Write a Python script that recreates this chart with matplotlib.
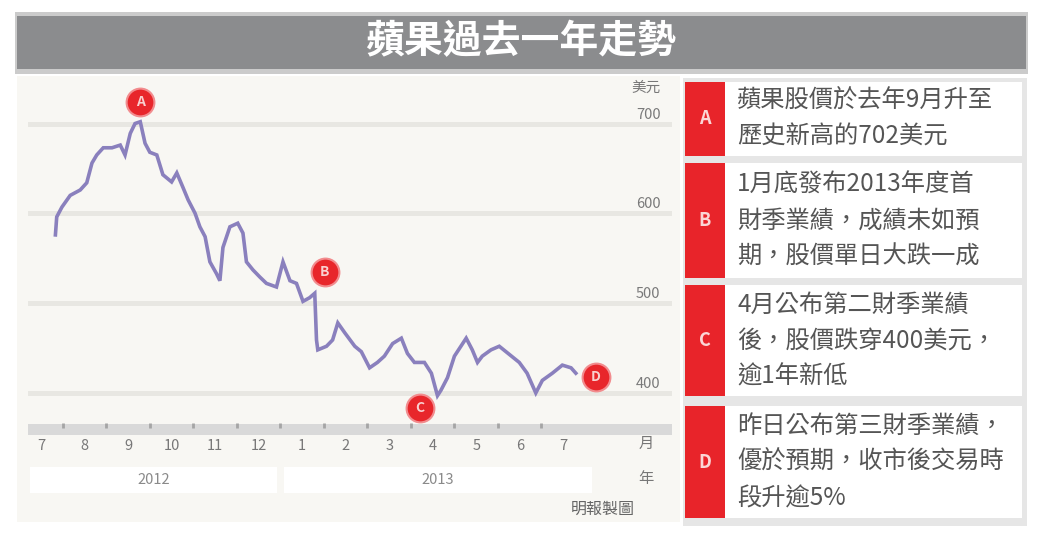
import matplotlib
matplotlib.use("Agg")
import matplotlib.pyplot as plt
from matplotlib.patches import Rectangle

plt.rcParams['font.family'] = ['Noto Sans CJK TC', 'DejaVu Sans']

# === Data ===
# x = months since 1 Jul 2012, y = share price in US$
months = [0.83, 0.86, 0.98, 1.17, 1.40, 1.55, 1.67, 1.78, 1.93, 2.13, 2.32, 2.43,
          2.55, 2.66, 2.78, 2.89, 3.00, 3.16, 3.30, 3.50, 3.62, 3.76, 3.88, 4.04,
          4.15, 4.27, 4.38, 4.53, 4.61, 4.68, 4.84, 5.02, 5.14, 5.22, 5.37, 5.53,
          5.68, 5.91, 6.06, 6.22, 6.37, 6.52, 6.67, 6.79, 6.83, 6.86, 7.06, 7.20,
          7.32, 7.48, 7.71, 7.86, 8.05, 8.23, 8.39, 8.58, 8.78, 8.92, 9.08, 9.31,
          9.47, 9.61, 9.69, 9.84, 10.00, 10.27, 10.41, 10.53, 10.64, 10.84, 11.03,
          11.26, 11.49, 11.67, 11.87, 12.02, 12.25, 12.48, 12.68, 12.79]
price = [576, 596, 607, 620, 626, 634, 656, 665, 673, 673, 676, 665,
         689, 700, 702, 678, 668, 665, 643, 635, 645, 629, 615, 600,
         585, 574, 546, 533, 525, 562, 585, 589, 578, 546, 537, 529,
         522, 518, 546, 525, 522, 502, 506, 511, 459, 448, 452, 459,
         478, 467, 452, 446, 428, 434, 441, 455, 461, 444, 434, 434,
         422, 397, 403, 417, 441, 461, 448, 434, 441, 448, 452,
         443, 434, 422, 400, 414, 422, 431, 428, 422]

marker_labels = ["A", "B", "C", "D"]
marker_x = [2.78, 7.02, 9.20, 13.25]
marker_y = [724, 535, 383, 418]

month_labels = ["7", "8", "9", "10", "11", "12", "1", "2", "3", "4", "5", "6", "7"]
year_labels = ["2012", "2013"]
y_ticks = [400, 500, 600, 700]

title = "蘋果過去一年走勢"
notes = [
    ["蘋果股價於去年9月升至", "歷史新高的702美元"],
    ["1月底發布2013年度首", "財季業績，成績未如預", "期，股價單日大跌一成"],
    ["4月公布第二財季業績", "後，股價跌穿400美元，", "逾1年新低"],
    ["昨日公布第三財季業績，", "優於預期，收市後交易時", "段升逾5%"],
]

# === Figure in pixel units ===
W, H = 1045, 540
fig = plt.figure(figsize=(W / 100, H / 100), dpi=100)
fig.patch.set_facecolor("white")


def fx(x):
    return x / W


def fy(y):
    return 1 - y / H


def box(x0, y0, x1, y1, color, z=-10):
    fig.patches.append(Rectangle((fx(x0), fy(y1)), (x1 - x0) / W, (y1 - y0) / H,
                                 transform=fig.transFigure, facecolor=color,
                                 edgecolor="none", zorder=z))


# title bar
box(15, 12, 1028, 74, "#cbcbcb")
box(17, 16, 1026, 69, "#8b8c8e", z=-9)
fig.text(fx(521), fy(42), title, color="white", fontsize=28, fontweight="bold",
         ha="center", va="center")

# left panel background
box(17, 76, 680, 522, "#f8f7f3")
# year boxes
box(30, 467, 277, 493, "white", z=-9)
box(284, 467, 592, 493, "white", z=-9)
fig.text(fx(154), fy(480), year_labels[0], color="#8a8a8a", fontsize=10.5,
         ha="center", va="center")
fig.text(fx(438), fy(480), year_labels[1], color="#8a8a8a", fontsize=10.5,
         ha="center", va="center")
fig.text(fx(646), fy(443), "月", color="#777777", fontsize=11, ha="center", va="center")
fig.text(fx(646), fy(479), "年", color="#777777", fontsize=11, ha="center", va="center")
fig.text(fx(603), fy(509), "明報製圖", color="#666666", fontsize=11.5, ha="center", va="center")
fig.text(fx(646), fy(88), "美元", color="#777777", fontsize=10.5, ha="center", va="center")

# === Chart axes ===
ax_l, ax_r, ax_t, ax_b = 28, 672, 85, 435
ax = fig.add_axes([fx(ax_l), fy(ax_b), (ax_r - ax_l) / W, (ax_b - ax_t) / H])
ax.set_facecolor("none")
ax.set_xlim(0.2, 15.0)
ax.set_ylim(353.2, 742.9)
for s in ax.spines.values():
    s.set_visible(False)

for v in y_ticks:
    ax.axhline(v, color="#e8e7e2", lw=3.6, zorder=1)
    ax.text(0.963, v + 10, str(v), transform=ax.get_yaxis_transform(),
            color="#7a7a7a", fontsize=10.5, ha="center", va="center", zorder=2)
ax.set_yticks([])

# bottom band with month ticks
ax.axhspan(353.2, 353.2 + 11 / 0.8983, color="#d9d9d9", lw=0, zorder=1)
ax.vlines(range(1, 13), 353.2 + 7 / 0.8983, 353.2 + 12 / 0.8983, color="#a5a5a5",
          lw=2, zorder=2)
ax.set_xticks([m + 0.5 for m in range(len(month_labels))])
ax.set_xticklabels(month_labels, color="#777777", fontsize=10.5)
ax.tick_params(axis="x", length=0, pad=3)

ax.plot(months, price, color="#8a80bd", lw=2.6, zorder=3, solid_joinstyle="miter")
for lab, mx, my in zip(marker_labels, marker_x, marker_y):
    ax.plot(mx, my, "o", ms=20, color="#e8262b", mec="#f28c8e", mew=1.5, zorder=4)
    ax.text(mx, my, lab, color="#f9d0d0", fontsize=10, fontweight="bold",
            ha="center", va="center", zorder=5)

# === Right panel with notes ===
box(683, 78, 1027, 526, "#e6e6e6")
rows = [(82, 156), (163, 278), (285, 396), (406, 518)]
for lab, (y0, y1), lines in zip(marker_labels, rows, notes):
    box(725, y0, 1022, y1, "white", z=-9)
    box(685, y0, 725, y1, "#e8242a", z=-9)
    fig.text(fx(705), fy((y0 + y1) / 2), lab, color="#fbd6d6", fontsize=13,
             fontweight="bold", ha="center", va="center")
    n = len(lines)
    yc = (y0 + y1) / 2
    for i, line in enumerate(lines):
        yy = yc + (i - (n - 1) / 2) * 36
        fig.text(fx(737), fy(yy), line, color="#555555", fontsize=17.5,
                 ha="left", va="center")

fig.savefig("out.png", dpi=100)
